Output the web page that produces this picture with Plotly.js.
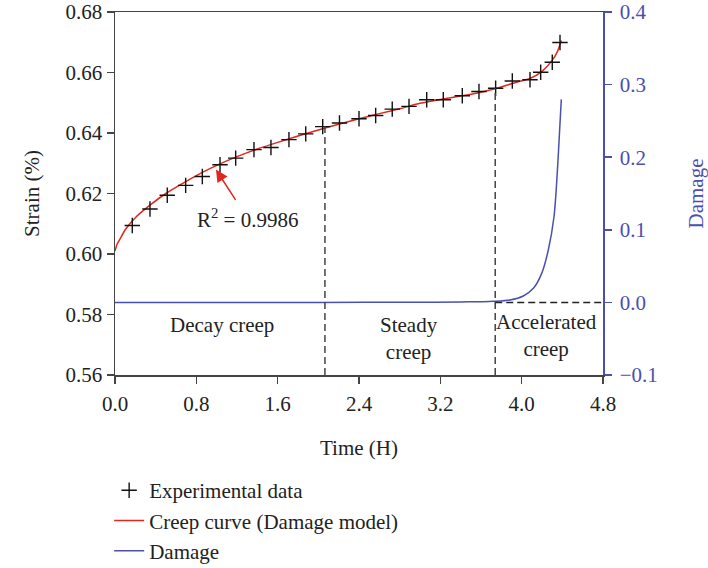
<!DOCTYPE html>
<html>
<head>
<meta charset="utf-8">
<script src="https://cdn.plot.ly/plotly-3.0.1.min.js"></script>
<style>html,body{margin:0;padding:0;background:#fff;}#chart{width:708px;height:568px;}</style>
</head>
<body>
<div id="chart"></div>
<script>
// Experimental data (Time in H, Strain in %)
const expTime = [0.170, 0.344, 0.514, 0.695, 0.859, 1.033, 1.187, 1.367, 1.534, 1.711, 1.876, 2.043, 2.208, 2.400, 2.564, 2.727, 2.892, 3.066, 3.229, 3.416, 3.580, 3.744, 3.908, 4.082, 4.187, 4.301, 4.377];
const expStrain = [0.6094, 0.6149, 0.6194, 0.6227, 0.6256, 0.6295, 0.6317, 0.6345, 0.6352, 0.6378, 0.6397, 0.6421, 0.6433, 0.6447, 0.6458, 0.6479, 0.6488, 0.6510, 0.6510, 0.6523, 0.6537, 0.6548, 0.6572, 0.6576, 0.6601, 0.6634, 0.6699];

// Creep curve (Damage model)
const curveTime = [0, 0.02, 0.05, 0.1, 0.2, 0.35, 0.5, 0.7, 0.85, 1.0, 1.2, 1.4, 1.6, 1.8, 2.0, 2.2, 2.4, 2.6, 2.8, 3.0, 3.2, 3.4, 3.6, 3.8, 3.95, 4.08, 4.2, 4.3, 4.35, 4.39];
const curveStrain = [0.6010, 0.6032, 0.6050, 0.6080, 0.6120, 0.6163, 0.6200, 0.6240, 0.6268, 0.6293, 0.6322, 0.6347, 0.6369, 0.6390, 0.6410, 0.6429, 0.6447, 0.6464, 0.6480, 0.6498, 0.6511, 0.6522, 0.6535, 0.6552, 0.6568, 0.6580, 0.6604, 0.6640, 0.6668, 0.6706];

// Damage
const damageTime = [0, 1.0, 2.0, 3.0, 3.4, 3.6, 3.72, 3.885, 4.016, 4.115, 4.197, 4.262, 4.318, 4.35, 4.377, 4.39];
const damageValue = [0, 0, 0, 0.0002, 0.0006, 0.001, 0.0015, 0.0033, 0.0088, 0.0194, 0.040, 0.0722, 0.118, 0.178, 0.2467, 0.2797];

// Stage boundaries
const boundaryTime = [2.065, 3.74];
const boundaryStrain = [0.6422, 0.6548];

const stageLabels = ['Decay creep', 'Steady<br>creep', 'Accelerated<br>creep'];
const stageX = [1.05, 2.89, 4.246];
const stageY = [0.5764, 0.5721, 0.5732];

const FONT = 'Liberation Serif, Times New Roman, serif';
const FS = 21;
const AXC = '#444';
const BLUE = '#4a4fb0';
const DASH = '7px,4px';

const traces = [
  {x: curveTime, y: curveStrain, mode: 'lines', name: 'Creep curve (Damage model)',
   line: {color: '#e3261b', width: 1.5, shape: 'spline', smoothing: 0.6}, legendrank: 2},
  {x: damageTime, y: damageValue, yaxis: 'y2', mode: 'lines', name: 'Damage',
   line: {color: BLUE, width: 1.5, shape: 'spline', smoothing: 0.8}, legendrank: 3},
  {x: expTime, y: expStrain, mode: 'markers', name: 'Experimental data',
   marker: {symbol: 'cross-thin', size: 11, line: {color: '#111', width: 1.4}, color: '#111'}, legendrank: 1}
];

const shapes = [];
for (let i = 0; i < boundaryTime.length; i++) {
  shapes.push({type: 'line', xref: 'x', yref: 'y', x0: boundaryTime[i], x1: boundaryTime[i], y0: 0.56, y1: boundaryStrain[i],
    line: {color: AXC, width: 1.5, dash: DASH}});
}
shapes.push({type: 'line', xref: 'x', yref: 'y2', x0: boundaryTime[1], x1: 4.8, y0: 0, y1: 0,
  line: {color: '#222', width: 1.5, dash: DASH}});

const annotations = stageLabels.map((t, i) => ({
  x: stageX[i], y: stageY[i], xref: 'x', yref: 'y', text: t, showarrow: false,
  font: {family: FONT, size: FS, color: '#222'}, align: 'center'
}));
annotations.push({x: 0.993, y: 0.6279, ax: 1.303, ay: 0.6118, xref: 'x', yref: 'y', axref: 'x', ayref: 'y',
  text: 'R<sup>2</sup> = 0.9986', showarrow: true, arrowhead: 2, arrowsize: 1.6, arrowwidth: 1.5,
  arrowcolor: '#e3261b', standoff: 0, startstandoff: 4,
  font: {family: FONT, size: FS, color: '#222'}});

const layout = {
  width: 708, height: 568,
  margin: {l: 115, r: 105, t: 12, b: 193, autoexpand: false},
  paper_bgcolor: '#fff', plot_bgcolor: '#fff',
  font: {family: FONT, size: FS, color: '#222'},
  showlegend: true,
  legend: {x: -0.012, y: -0.262, xanchor: 'left', yanchor: 'top', orientation: 'v',
    font: {family: FONT, size: FS, color: '#222'}, bgcolor: 'rgba(0,0,0,0)', tracegroupgap: 0},
  xaxis: {range: [0, 4.8], dtick: 0.8, tick0: 0, tickformat: '.1f', showgrid: false, zeroline: false,
    showline: true, linecolor: AXC, linewidth: 1.5, mirror: true, ticks: 'outside', ticklen: 7, tickwidth: 1.5, tickcolor: AXC,
    ticklabelstandoff: 2,
    tickfont: {family: FONT, size: FS, color: '#222'},
    title: {text: 'Time (H)', font: {family: FONT, size: FS, color: '#222'}, standoff: 25}},
  yaxis: {range: [0.56, 0.68], dtick: 0.02, tick0: 0.56, tickformat: '.2f', showgrid: false, zeroline: false,
    showline: true, linecolor: AXC, linewidth: 1.5, ticks: 'outside', ticklen: 7, tickwidth: 1.5, tickcolor: AXC,
    tickfont: {family: FONT, size: FS, color: '#222'},
    title: {text: 'Strain (%)', font: {family: FONT, size: FS, color: '#222'}, standoff: 20}},
  yaxis2: {range: [-0.1, 0.4], dtick: 0.1, tick0: -0.1, tickformat: '.1f', overlaying: 'y', side: 'right',
    showgrid: false, zeroline: false, showline: true, linecolor: BLUE, linewidth: 1.5,
    ticks: 'outside', ticklen: 7, tickwidth: 1.5, tickcolor: BLUE, ticklabelstandoff: 4,
    tickfont: {family: FONT, size: FS, color: BLUE},
    title: {text: 'Damage', font: {family: FONT, size: FS, color: BLUE}, standoff: 42}},
  shapes: shapes,
  annotations: annotations
};

Plotly.newPlot('chart', traces, layout, {displayModeBar: false, staticPlot: true});
</script>
</body>
</html>
